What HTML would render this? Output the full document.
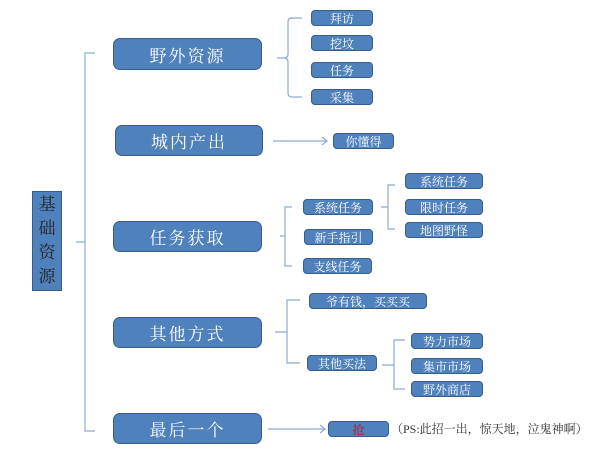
<!DOCTYPE html>
<html><head><meta charset="utf-8"><style>
body{margin:0;width:600px;height:464px;background:#fff;position:relative;overflow:hidden;font-family:"Liberation Serif","Noto Serif CJK SC",serif}
.b{position:absolute;background:#4f81bd;border:1.5px solid #385d8a;border-radius:4px;color:#fff;display:flex;align-items:center;justify-content:center;box-sizing:border-box}
.L{font-size:17px;border-radius:7px;letter-spacing:2px}
.s{font-size:12px}
svg{position:absolute;left:0;top:0}
</style></head><body>
<svg width="600" height="464" fill="none" stroke="#8eaad0" stroke-width="1.2">
<path d="M95,53 H85 V431 H95 M85,242 H76"/>
<path d="M302,18 H292 Q288,18 288,22 V54 Q288,58 284,58 H277 M284,58 Q288,58 288,62 V93 Q288,97 292,97 H302"/>
<path d="M273,141 H327 M322,137 L327,141 L322,145"/>
<path d="M292,207 H285 V266 H292 M285,236 H280"/>
<path d="M395,185 H388 V229 H395 M388,207 H381"/>
<path d="M300,300 H287 V363 H300 M287,332 H275"/>
<path d="M405,340 H394 V389 H405 M394,365 H382"/>
<path d="M268,429 H325 M320,425 L325,429 L320,433"/>
</svg>
<div class="b" style="left:32px;top:191px;width:30px;height:100px;font-size:17px;line-height:24px;color:#222;border-radius:0;flex-direction:column">基<br>础<br>资<br>源</div>
<div class="b L" style="left:113px;top:38px;width:149px;height:32px">野外资源</div>
<div class="b L" style="left:115px;top:125px;width:148px;height:31px">城内产出</div>
<div class="b L" style="left:113px;top:221px;width:149px;height:31px">任务获取</div>
<div class="b L" style="left:113px;top:317px;width:149px;height:31px">其他方式</div>
<div class="b L" style="left:113px;top:413px;width:149px;height:31px">最后一个</div>
<div class="b s" style="left:311px;top:10px;width:62px;height:16px">拜访</div>
<div class="b s" style="left:311px;top:35px;width:62px;height:16px">挖坟</div>
<div class="b s" style="left:311px;top:62px;width:62px;height:16px">任务</div>
<div class="b s" style="left:311px;top:89px;width:62px;height:16px">采集</div>
<div class="b s" style="left:333px;top:133px;width:61px;height:16px">你懂得</div>
<div class="b s" style="left:303px;top:199px;width:70px;height:16px">系统任务</div>
<div class="b s" style="left:304px;top:229px;width:69px;height:16px">新手指引</div>
<div class="b s" style="left:303px;top:258px;width:69px;height:16px">支线任务</div>
<div class="b s" style="left:405px;top:173px;width:78px;height:16px">系统任务</div>
<div class="b s" style="left:405px;top:199px;width:78px;height:16px">限时任务</div>
<div class="b s" style="left:405px;top:222px;width:78px;height:16px">地图野怪</div>
<div class="b s" style="left:309px;top:293px;width:118px;height:16px">爷有钱，买买买</div>
<div class="b s" style="left:307px;top:355px;width:70px;height:16px">其他买法</div>
<div class="b s" style="left:411px;top:333px;width:72px;height:16px">势力市场</div>
<div class="b s" style="left:411px;top:358px;width:72px;height:16px">集市市场</div>
<div class="b s" style="left:411px;top:381px;width:72px;height:16px">野外商店</div>
<div class="b s" style="left:328px;top:421px;width:61px;height:16px;color:#c0141e">抢</div>
<div style="position:absolute;left:391px;top:420px;font-size:12px;color:#333;white-space:nowrap">（PS:此招一出，惊天地，泣鬼神啊）</div>
</body></html>
